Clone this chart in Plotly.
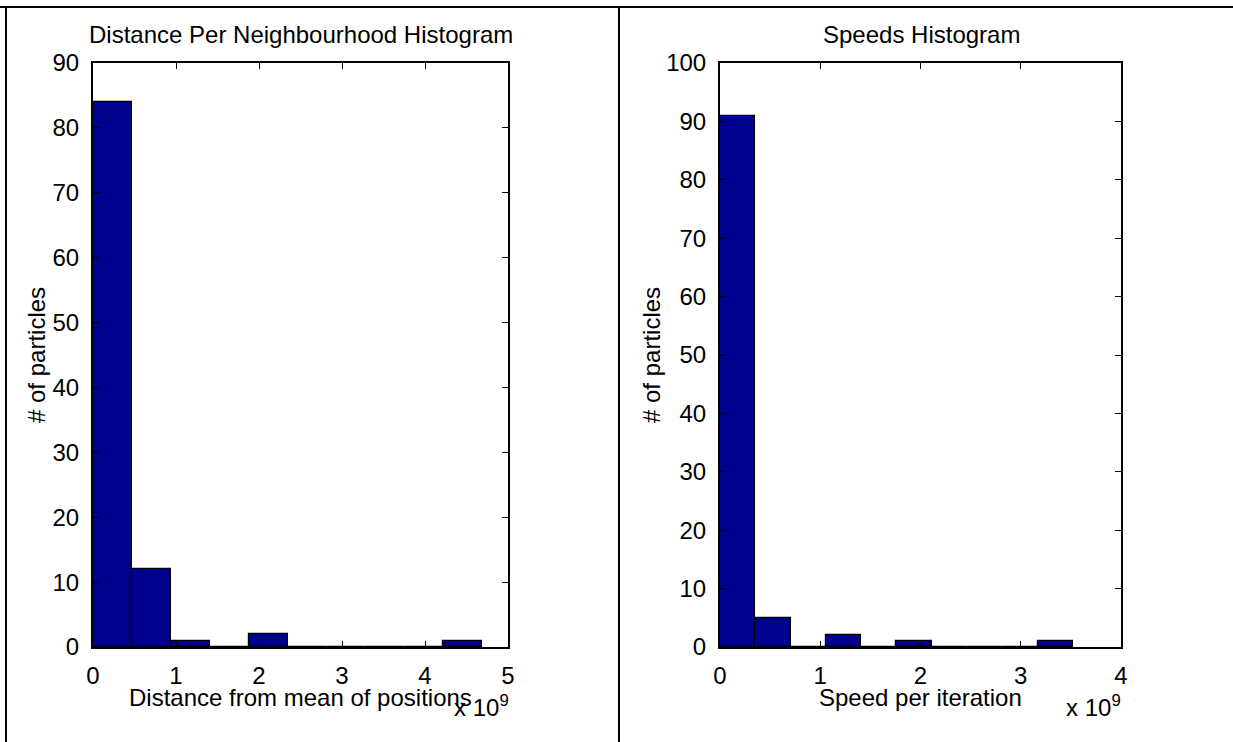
import plotly.graph_objects as go

# Histogram counts (10 bins each), values in metres / metres per iteration
dist_bin_width = 0.469e9
dist_counts = [84, 12, 1, 0, 2, 0, 0, 0, 0, 1]

speed_bin_width = 0.352e9
speed_counts = [91, 5, 0, 2, 0, 1, 0, 0, 0, 1]

dist_ticks = [0, 1, 2, 3, 4, 5]
speed_ticks = [0, 1, 2, 3, 4]
dist_yticks = [0, 10, 20, 30, 40, 50, 60, 70, 80, 90]
speed_yticks = [0, 10, 20, 30, 40, 50, 60, 70, 80, 90, 100]

bar_color = "#00008f"
font_family = "Liberation Sans, Arial, sans-serif"
fs = 24
W, H = 1233, 742


def centers(width, n):
    return [width * (i + 0.5) for i in range(n)]


fig = go.Figure()
fig.add_trace(go.Bar(
    x=centers(dist_bin_width, len(dist_counts)), y=dist_counts,
    width=dist_bin_width, marker=dict(color=bar_color, line=dict(color="black", width=1.2)),
    xaxis="x", yaxis="y", showlegend=False))
fig.add_trace(go.Bar(
    x=centers(speed_bin_width, len(speed_counts)), y=speed_counts,
    width=speed_bin_width, marker=dict(color=bar_color, line=dict(color="black", width=1.2)),
    xaxis="x2", yaxis="y2", showlegend=False))

y_dom = [(H - 647) / H, (H - 63) / H]

axis_common = dict(
    showgrid=False, zeroline=False, showline=True, linecolor="black", linewidth=2,
    mirror="ticks", ticks="inside", ticklen=6, tickwidth=1, tickcolor="black",
    automargin=False,
    tickfont=dict(family=font_family, size=fs, color="black"),
)

fig.update_layout(
    width=W, height=H,
    margin=dict(l=0, r=0, t=0, b=0, autoexpand=False),
    paper_bgcolor="white", plot_bgcolor="white",
    bargap=0,
    font=dict(family=font_family, size=fs, color="black"),
    xaxis=dict(domain=[93 / W, 508 / W], range=[0, 5e9],
               tickvals=[t * 1e9 for t in dist_ticks], ticktext=[str(t) for t in dist_ticks],
               anchor="y", ticklabelstandoff=6, **axis_common),
    yaxis=dict(domain=y_dom, range=[0, 90], tickvals=dist_yticks, anchor="x",
               ticklabelstandoff=7, **axis_common),
    xaxis2=dict(domain=[720 / W, 1121 / W], range=[0, 4e9],
                tickvals=[t * 1e9 for t in speed_ticks], ticktext=[str(t) for t in speed_ticks],
                anchor="y2", ticklabelstandoff=6, **axis_common),
    yaxis2=dict(domain=y_dom, range=[0, 100], tickvals=speed_yticks, anchor="x2",
                ticklabelstandoff=7, **axis_common),
)


def ann(text, x, y, **kw):
    fig.add_annotation(text=text, x=x / W, y=1 - y / H, xref="paper", yref="paper",
                       xanchor="center", yanchor="middle", showarrow=False,
                       font=dict(family=font_family, size=fs, color="black"), **kw)


# Subplot titles
ann("Distance Per Neighbourhood Histogram", 301, 35)
ann("Speeds Histogram", 921, 35)
# Axis titles
ann("Distance from mean of positions", 300, 697)
ann("Speed per iteration", 920, 697)
ann("# of particles", 36, 355, textangle=-90)
ann("# of particles", 651, 355, textangle=-90)
# Exponent labels
ann("x 10<sup>9</sup>", 481, 706)
ann("x 10<sup>9</sup>", 1093, 706)

# Surrounding frame lines
line = dict(color="black", width=2)
fig.add_shape(type="line", xref="paper", yref="paper", x0=0, x1=1,
              y0=1 - 7 / H, y1=1 - 7 / H, line=line)
fig.add_shape(type="line", xref="paper", yref="paper", x0=6 / W, x1=6 / W,
              y0=0, y1=1 - 7 / H, line=line)
fig.add_shape(type="line", xref="paper", yref="paper", x0=619 / W, x1=619 / W,
              y0=0, y1=1 - 7 / H, line=line)

fig.write_html("out.html")
